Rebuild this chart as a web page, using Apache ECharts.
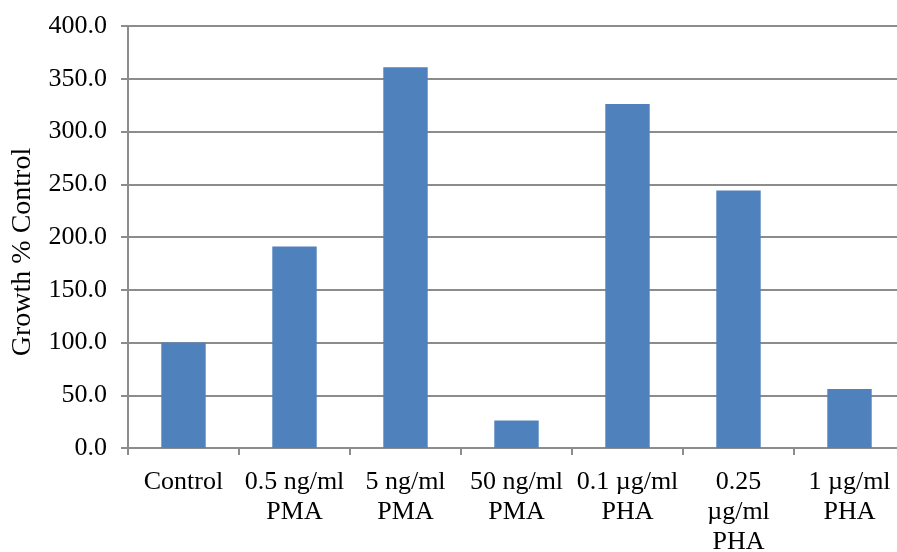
<!DOCTYPE html>
<html>
<head>
<meta charset="utf-8">
<script src="https://cdn.jsdelivr.net/npm/echarts@6/dist/echarts.min.js"></script>
<style>html,body{margin:0;padding:0;background:#fff}#c{width:897px;height:552px}</style>
</head>
<body>
<div id="c"></div>
<script>
const categories = ["Control", "0.5 ng/ml\nPMA", "5 ng/ml\nPMA", "50 ng/ml\nPMA", "0.1 µg/ml\nPHA", "0.25\nµg/ml\nPHA", "1 µg/ml\nPHA"];
const values = [100, 191, 361, 26, 326, 244, 56];
const yTicks = {min: 0, max: 400, interval: 50};
const yName = "Growth % Control";

const font = "'Liberation Serif', 'Times New Roman', serif";
const chart = echarts.init(document.getElementById('c'));
chart.setOption({
  animation: false,
  grid: {left: 128, width: 777, top: 26, height: 422, containLabel: false, outerBoundsMode: 'none'},
  xAxis: {
    type: 'category',
    data: categories,
    axisLine: {lineStyle: {color: '#8c8c8c', width: 2}},
    axisTick: {show: true, length: 7, lineStyle: {color: '#8c8c8c', width: 2}},
    axisLabel: {color: '#000', fontFamily: font, fontSize: 26, lineHeight: 30, margin: 19, interval: 0}
  },
  yAxis: {
    type: 'value',
    min: yTicks.min, max: yTicks.max, interval: yTicks.interval,
    name: yName,
    nameLocation: 'middle',
    nameGap: 91,
    nameTextStyle: {color: '#000', fontFamily: font, fontSize: 28, padding: [0, 0, 0, -30]},
    axisLine: {show: true, lineStyle: {color: '#8c8c8c', width: 2}},
    axisTick: {show: true, length: 7, lineStyle: {color: '#8c8c8c', width: 2}},
    splitLine: {lineStyle: {color: '#8c8c8c', width: 2}},
    axisLabel: {color: '#000', fontFamily: font, fontSize: 26, margin: 21,
      formatter: v => v.toFixed(1)}
  },
  series: [{
    type: 'bar',
    data: values,
    barWidth: '40%',
    itemStyle: {color: '#4F81BD'}
  }]
});
</script>
</body>
</html>
